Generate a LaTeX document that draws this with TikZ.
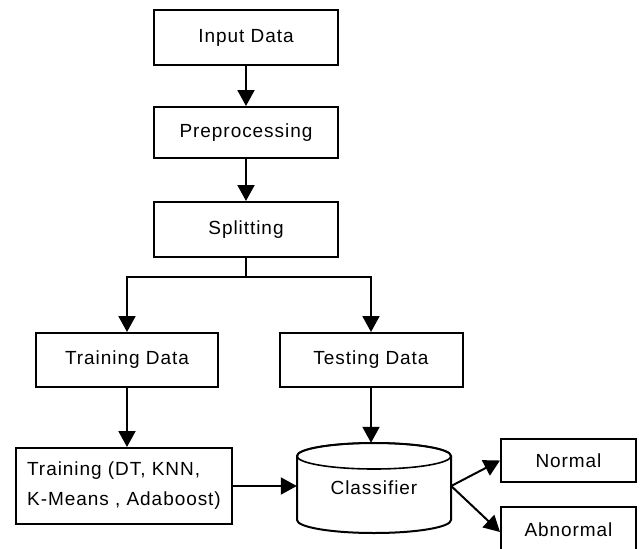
\documentclass[tikz,border=0pt]{standalone}
\usepackage{fontspec}
\setmainfont{Liberation Sans}[LetterSpace=5]
\usetikzlibrary{arrows.meta}
\begin{document}
\begin{tikzpicture}[x=1pt,y=-1pt,
  box/.style={draw=black, line width=2pt, rectangle, inner sep=0pt, fill=white,
    font=\fontsize{19}{30}\selectfont},
  arr/.style={line width=2pt, -{Triangle[width=17pt,length=16pt]}},
  ln/.style={line width=2pt}]
\useasboundingbox[fill=white] (0,0) rectangle (643,549);
\node[box, minimum width=184pt, minimum height=55pt] (input) at (246,37.5) {Input Data};
\node[box, minimum width=184pt, minimum height=51pt] (pre) at (246,132.5) {Preprocessing};
\node[box, minimum width=184pt, minimum height=55pt] (split) at (246,229.5) {Splitting};
\node[box, minimum width=182pt, minimum height=54pt] (trdata) at (127,360) {Training Data};
\node[box, minimum width=183pt, minimum height=54pt] (tedata) at (371,360) {Testing Data};
\node[box, minimum width=216pt, minimum height=76pt, align=left] (train) at (124,486) {Training (DT, KNN,\\K-Means , Adaboost)};
\node[box, minimum width=135pt, minimum height=43pt] (normal) at (568.5,460.5) {Normal};
\node[box, minimum width=135pt, minimum height=46pt] (abnormal) at (568.5,530) {Abnormal};
% classifier cylinder
\draw[line width=2pt, fill=white] (297,456) -- (297,520) arc[start angle=180, end angle=0, x radius=77, y radius=13] -- (451,456) arc[start angle=0, end angle=-180, x radius=77, y radius=13] -- cycle;
\draw[line width=1.6pt] (374,456) ellipse[x radius=77, y radius=13];
\node[font=\fontsize{19}{30}\selectfont, minimum width=154pt, minimum height=90pt, inner sep=0pt] (cls) at (374,488) {Classifier};
% connectors
\draw[arr] (input) -- (pre);
\draw[arr] (pre) -- (split);
\draw[ln] (split.south) -- ++(0,19) coordinate (j);
\draw[arr] (j) -| (trdata.north);
\draw[arr] (j) -| (tedata.north);
\draw[arr] (trdata.south) -- (trdata.south |- train.north);
\draw[arr] (tedata.south) -- (tedata.south |- cls.north);
\draw[arr] (train.east) -- (train.east -| cls.west);
\coordinate (cr) at ([yshift=2pt]cls.east);
\draw[arr] (cr) -- (normal.west);
\draw[arr] (cr) -- ([yshift=-2pt]abnormal.west);
\end{tikzpicture}
\end{document}
